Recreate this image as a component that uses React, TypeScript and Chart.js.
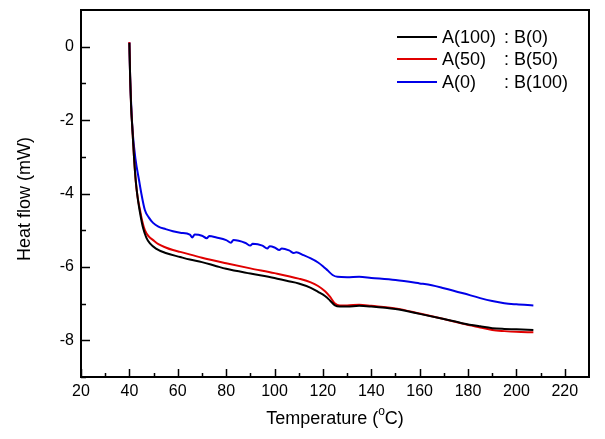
import React, { useEffect, useRef } from "react";
import { Chart, registerables } from "chart.js";

Chart.register(...registerables);

const blackX = [40, 40.3, 40.7, 41.3, 41.9, 42.7, 43.6, 44.6, 45.7, 47, 48.5, 51, 55, 61, 65, 70, 76, 80, 90, 100, 105, 110, 115, 118, 121, 123, 125, 127, 130, 135, 140, 150, 160, 170, 178, 185, 190, 195, 200, 207];
const blackY = [0.1, -0.8, -1.6, -2.3, -3.0, -3.7, -4.2, -4.6, -4.95, -5.2, -5.36, -5.5, -5.62, -5.73, -5.8, -5.87, -5.98, -6.05, -6.18, -6.3, -6.38, -6.45, -6.57, -6.68, -6.8, -6.92, -7.05, -7.08, -7.08, -7.06, -7.08, -7.15, -7.28, -7.42, -7.54, -7.62, -7.67, -7.69, -7.7, -7.72];

const redX = [40, 40.3, 40.7, 41.3, 41.9, 42.6, 43.4, 44.4, 45.3, 46.4, 48, 49.8, 52, 55, 58, 61, 70, 80, 90, 100, 110, 115, 118, 121, 123, 125, 127, 130, 135, 140, 150, 160, 170, 178, 185, 190, 195, 200, 207];
const redY = [0.13, -0.8, -1.6, -2.3, -3.0, -3.64, -4.1, -4.45, -4.75, -5.0, -5.17, -5.27, -5.38, -5.47, -5.54, -5.59, -5.75, -5.9, -6.04, -6.17, -6.32, -6.42, -6.52, -6.67, -6.82, -7.0, -7.05, -7.05, -7.03, -7.06, -7.13, -7.27, -7.42, -7.55, -7.65, -7.72, -7.75, -7.77, -7.78];

const blueX = [40, 40.3, 40.7, 41.3, 42.5, 44, 45, 46.4, 48, 49.8, 52, 55, 58, 61, 65, 66, 67, 70, 72, 73, 76, 80, 82, 83, 88, 90, 91, 95, 97, 98, 100, 102, 103, 106, 108, 109, 112, 115, 118, 120, 122, 124, 126, 130, 135, 140, 150, 160, 165, 170, 178, 185, 190, 195, 200, 207];
const blueY = [0.12, -0.8, -1.5, -2.27, -3.05, -3.64, -4.02, -4.45, -4.65, -4.8, -4.9, -4.97, -5.03, -5.07, -5.12, -5.2, -5.12, -5.15, -5.22, -5.16, -5.2, -5.27, -5.34, -5.27, -5.35, -5.42, -5.37, -5.42, -5.5, -5.44, -5.47, -5.54, -5.5, -5.55, -5.62, -5.6, -5.68, -5.77, -5.88, -5.98, -6.1, -6.22, -6.27, -6.28, -6.27, -6.3, -6.36, -6.45, -6.5, -6.58, -6.72, -6.85, -6.93, -6.99, -7.02, -7.05];

const xMajor = [20, 40, 60, 80, 100, 120, 140, 160, 180, 200, 220];
const xMinor = [30, 50, 70, 90, 110, 130, 150, 170, 190, 210];
const yMajor = [-8, -6, -4, -2, 0];
const yMinor = [-9, -7, -5, -3, -1];

const seriesLabelsA = ["A(100)", "A(50)", "A(0)"];
const seriesLabelsB = [": B(0)", ": B(50)", ": B(100)"];
const seriesColors = ["#000000", "#e00000", "#0000e8"];

const FONT = "'Liberation Sans', Arial, sans-serif";

const zip = (xs: number[], ys: number[]) => xs.map((x, i) => ({ x, y: ys[i] }));

const framePlugin = {
  id: "frame",
  afterDraw(chart: any) {
    const { ctx, chartArea, scales } = chart;
    const { left, right, top, bottom } = chartArea;
    const xs = scales.x;
    const ys = scales.y;
    ctx.save();
    ctx.strokeStyle = "#000";
    ctx.lineWidth = 2;
    ctx.strokeRect(left, top, right - left, bottom - top);
    ctx.lineWidth = 1.5;
    ctx.beginPath();
    xMajor.forEach((v) => {
      const p = Math.round(xs.getPixelForValue(v)) + 0.5;
      ctx.moveTo(p, bottom);
      ctx.lineTo(p, bottom - 8);
    });
    xMinor.forEach((v) => {
      const p = Math.round(xs.getPixelForValue(v)) + 0.5;
      ctx.moveTo(p, bottom);
      ctx.lineTo(p, bottom - 4);
    });
    yMajor.forEach((v) => {
      const p = Math.round(ys.getPixelForValue(v)) + 0.5;
      ctx.moveTo(left, p);
      ctx.lineTo(left + 9, p);
    });
    yMinor.forEach((v) => {
      const p = Math.round(ys.getPixelForValue(v)) + 0.5;
      ctx.moveTo(left, p);
      ctx.lineTo(left + 5, p);
    });
    ctx.stroke();

    // legend
    ctx.font = `18px ${FONT}`;
    ctx.textBaseline = "middle";
    ctx.textAlign = "left";
    const rows = [37, 59, 82];
    rows.forEach((y, i) => {
      ctx.strokeStyle = seriesColors[i];
      ctx.lineWidth = 2;
      ctx.beginPath();
      ctx.moveTo(397, y);
      ctx.lineTo(437, y);
      ctx.stroke();
      ctx.fillStyle = "#000";
      ctx.fillText(seriesLabelsA[i], 442, y + 1);
      ctx.fillText(seriesLabelsB[i], 504, y + 1);
    });

    // x title with superscript
    const t1 = "Temperature (";
    const t2 = "o";
    const t3 = "C)";
    ctx.font = `18px ${FONT}`;
    const w1 = ctx.measureText(t1).width;
    const w3 = ctx.measureText(t3).width;
    ctx.font = `12px ${FONT}`;
    const w2 = ctx.measureText(t2).width;
    const total = w1 + w2 + w3;
    const cx = (left + right) / 2;
    const x0 = cx - total / 2;
    const ty = 419;
    ctx.fillStyle = "#000";
    ctx.textBaseline = "middle";
    ctx.font = `18px ${FONT}`;
    ctx.fillText(t1, x0, ty);
    ctx.font = `12px ${FONT}`;
    ctx.fillText(t2, x0 + w1, ty - 7);
    ctx.font = `18px ${FONT}`;
    ctx.fillText(t3, x0 + w1 + w2, ty);

    // y title
    ctx.save();
    ctx.translate(25, 199);
    ctx.rotate(-Math.PI / 2);
    ctx.textAlign = "center";
    ctx.textBaseline = "middle";
    ctx.font = `18px ${FONT}`;
    ctx.fillText("Heat flow (mW)", 0, 0);
    ctx.restore();
    ctx.restore();
  },
};

export default function App() {
  const ref = useRef<HTMLCanvasElement>(null);
  useEffect(() => {
    document.body.style.margin = "0";
    const mk = (xs: number[], ys: number[], color: string) => ({
      data: zip(xs, ys),
      borderColor: color,
      borderWidth: 2,
      pointRadius: 0,
      tension: 0,
      cubicInterpolationMode: "monotone" as const,
      fill: false,
    });
    const chart = new Chart(ref.current!, {
      type: "line",
      data: {
        datasets: [
          mk(blackX, blackY, seriesColors[0]),
          mk(redX, redY, seriesColors[1]),
          mk(blueX, blueY, seriesColors[2]),
        ],
      },
      options: {
        animation: false,
        responsive: false,
        maintainAspectRatio: false,
        layout: { padding: { top: 10, right: 16, left: 0, bottom: 0 } },
        plugins: { legend: { display: false }, tooltip: { enabled: false } },
        scales: {
          x: {
            type: "linear",
            min: 20,
            max: 230,
            afterBuildTicks: (s: any) => {
              s.ticks = xMajor.map((v) => ({ value: v }));
            },
            afterFit: (s: any) => {
              s.height = 62;
              s.paddingLeft = 0;
              s.paddingRight = 0;
            },
            grid: { display: false, drawTicks: false },
            border: { display: false },
            ticks: {
              padding: 5,
              color: "#000",
              font: { family: FONT, size: 16 },
              maxRotation: 0,
              autoSkip: false,
            },
          },
          y: {
            type: "linear",
            min: -9,
            max: 1,
            afterBuildTicks: (s: any) => {
              s.ticks = yMajor.map((v) => ({ value: v }));
            },
            afterFit: (s: any) => {
              s.width = 81;
              s.paddingTop = 0;
              s.paddingBottom = 0;
            },
            grid: { display: false, drawTicks: false },
            border: { display: false },
            ticks: {
              padding: 7,
              color: "#000",
              font: { family: FONT, size: 16 },
              autoSkip: false,
            },
          },
        },
      },
      plugins: [framePlugin],
    });
    return () => chart.destroy();
  }, []);
  return (
    <div style={{ width: 605, height: 439, background: "#fff" }}>
      <canvas ref={ref} width={605} height={439} style={{ width: 605, height: 439 }} />
    </div>
  );
}
